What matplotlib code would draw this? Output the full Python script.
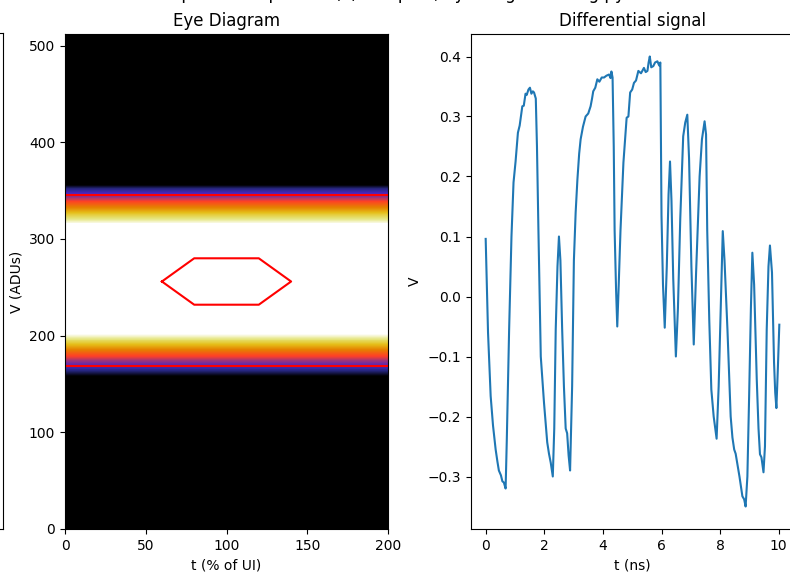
import numpy as np
import matplotlib
matplotlib.use('Agg')
import matplotlib.pyplot as plt

# eye diagram grid: 512 ADU rows x 200 %UI columns
n_adu = 512
n_ui = 200

# shading profile across V (ADU) -> fill level for CMRmap
prof_v = [0, 158, 163, 168, 172, 178, 185, 192, 198, 202,
          316, 320, 326, 332, 338, 344, 348, 352, 356, 512]
prof_lvl = [0.0, 0.0, 0.12, 0.22, 0.32, 0.48, 0.62, 0.78, 0.9, 1.0,
            1.0, 0.9, 0.78, 0.64, 0.52, 0.34, 0.24, 0.14, 0.0, 0.0]

# mean rail levels
rail_hi = 345
rail_lo = 169

# eye mask hexagon (t %UI, V ADU)
mask_t = [60, 80, 120, 140, 120, 80, 60]
mask_v = [256, 280, 280, 256, 232, 232, 256]

# differential signal trace
t_ns = [0.0, 0.08, 0.17, 0.25, 0.34, 0.40, 0.45, 0.52, 0.57, 0.62, 0.68, 0.72,
        0.80, 0.88, 0.95, 1.02, 1.10, 1.16, 1.25, 1.30, 1.36, 1.40, 1.46, 1.51,
        1.56, 1.61, 1.65, 1.71, 1.75, 1.80, 1.88, 1.99, 2.10, 2.16, 2.22, 2.29,
        2.34, 2.39, 2.45, 2.50, 2.55, 2.61, 2.67, 2.73, 2.78, 2.83, 2.88, 2.95,
        3.01, 3.07, 3.13, 3.19, 3.24, 3.32, 3.41, 3.50, 3.58, 3.63, 3.67, 3.74,
        3.81, 3.88, 3.96, 4.04, 4.12, 4.21, 4.26, 4.29, 4.33, 4.37, 4.40, 4.45,
        4.49, 4.54, 4.60, 4.70, 4.81, 4.87, 4.93, 5.00, 5.06, 5.13, 5.21, 5.30,
        5.40, 5.46, 5.52, 5.56, 5.60, 5.65, 5.72, 5.78, 5.86, 5.92, 5.96, 6.00,
        6.05, 6.11, 6.18, 6.24, 6.29, 6.34, 6.40, 6.49, 6.56, 6.64, 6.74, 6.81,
        6.88, 6.94, 7.02, 7.10, 7.18, 7.30, 7.38, 7.47, 7.52, 7.56, 7.63, 7.70,
        7.78, 7.88, 7.95, 8.02, 8.09, 8.15, 8.25, 8.36, 8.42, 8.48, 8.53, 8.59,
        8.66, 8.76, 8.82, 8.87, 8.93, 8.99, 9.05, 9.10, 9.16, 9.25, 9.31, 9.36,
        9.41, 9.48, 9.53, 9.59, 9.65, 9.70, 9.77, 9.84, 9.88, 9.92, 9.97, 10.02]
v_diff = [0.096, -0.06, -0.166, -0.215, -0.255, -0.275, -0.29, -0.298, -0.308,
          -0.31, -0.32, -0.24, -0.055, 0.1, 0.19, 0.225, 0.273, 0.285, 0.317,
          0.318, 0.338, 0.336, 0.345, 0.348, 0.338, 0.342, 0.34, 0.33, 0.25,
          0.11, -0.1, -0.177, -0.243, -0.262, -0.277, -0.3, -0.22, -0.055,
          0.05, 0.1, 0.06, -0.055, -0.15, -0.22, -0.228, -0.265, -0.29, -0.15,
          0.06, 0.14, 0.195, 0.238, 0.262, 0.283, 0.3, 0.305, 0.317, 0.33,
          0.342, 0.348, 0.362, 0.358, 0.365, 0.365, 0.368, 0.37, 0.364, 0.375,
          0.365, 0.25, 0.11, 0.01, -0.05, 0.02, 0.11, 0.223, 0.298, 0.3, 0.34,
          0.345, 0.356, 0.36, 0.376, 0.372, 0.381, 0.374, 0.376, 0.39, 0.4,
          0.382, 0.384, 0.39, 0.392, 0.385, 0.39, 0.134, 0.02, -0.052, 0.05,
          0.17, 0.225, 0.16, 0.03, -0.1, -0.02, 0.13, 0.267, 0.29, 0.303, 0.23,
          0.05, -0.08, 0.04, 0.2, 0.262, 0.292, 0.27, 0.11, -0.04, -0.155,
          -0.2, -0.237, -0.15, -0.02, 0.109, 0.06, -0.055, -0.2, -0.235, -0.255,
          -0.262, -0.28, -0.3, -0.333, -0.338, -0.35, -0.3, -0.166, -0.02, 0.073,
          0.02, -0.138, -0.22, -0.263, -0.268, -0.293, -0.25, -0.055, 0.05,
          0.085, 0.04, -0.11, -0.16, -0.186, -0.12, -0.047]

rows = np.interp(np.arange(n_adu) + 0.5, prof_v, prof_lvl)
eye = np.repeat(rows[:, None], n_ui, axis=1)

fig = plt.figure(figsize=(7.9, 5.72), dpi=100)
# suptitle sits just above the top edge, only its descenders reach the canvas
fig.text(0.5, 1 + 1 / 572, 'Input: PRBS pattern (x) sampled, eye diagram using py', ha='center',
         va='baseline', fontsize=12)

bottom = 43 / 572
height = 495 / 572

# neighbouring panel, only its right edge lands on the canvas
ax0 = fig.add_axes([-320 / 790, bottom, 323 / 790, height + 1 / 572])
ax0.set_xticks([])
ax0.set_yticks([])

ax1 = fig.add_axes([65 / 790, bottom, 323 / 790, height])
ax1.imshow(eye, cmap='CMRmap', origin='lower', aspect='auto',
           extent=[0, n_ui, 0, n_adu], vmin=0, vmax=1, interpolation='nearest')
ax1.axhline(rail_hi, color='red', lw=1.5)
ax1.axhline(rail_lo, color='red', lw=1.5)
ax1.plot(mask_t, mask_v, color='red', lw=1.5)
ax1.set_xlim(0, n_ui)
ax1.set_ylim(0, n_adu)
ax1.set_title('Eye Diagram')
ax1.set_xlabel('t (% of UI)')
ax1.set_ylabel('V (ADUs)')

ax2 = fig.add_axes([471 / 790, bottom, 323 / 790, height])
ax2.plot(t_ns, v_diff)
ax2.set_title('Differential signal')
ax2.set_xlabel('t (ns)')
ax2.set_ylabel('V')

fig.savefig('out.png', dpi=100)
